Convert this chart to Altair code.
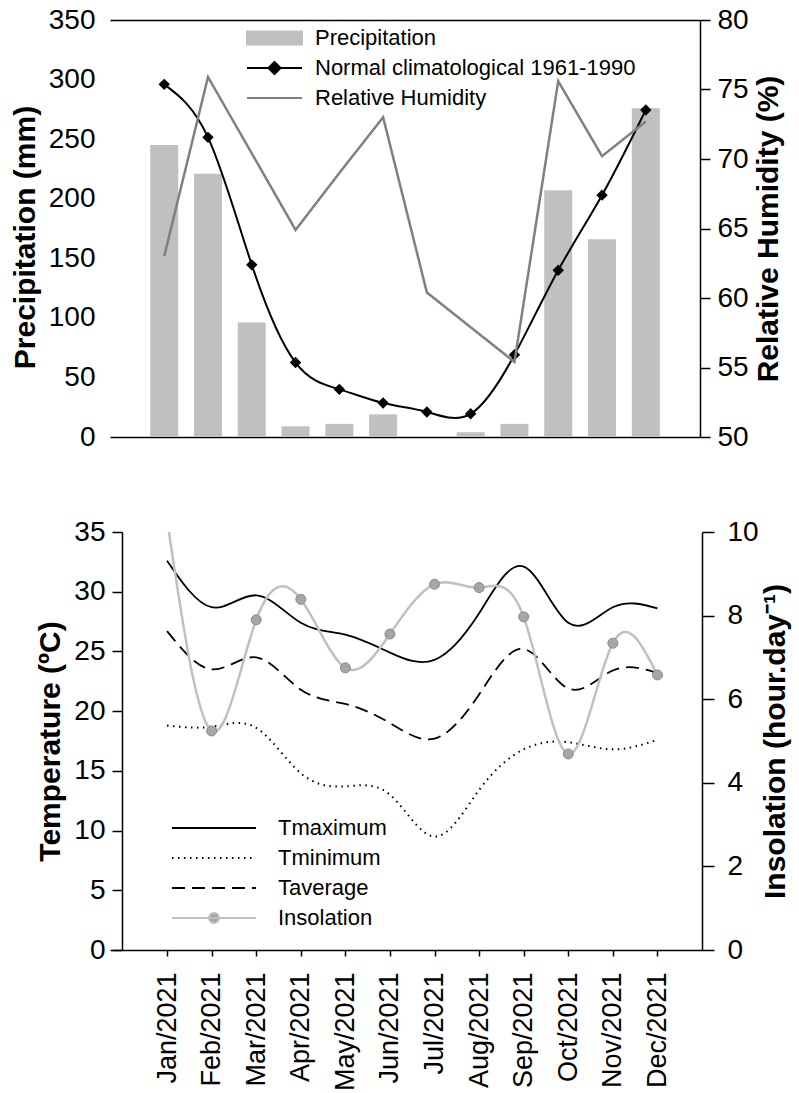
import json
import pandas as pd
import altair as alt

# ---------------- data ----------------
months = ["Jan/2021", "Feb/2021", "Mar/2021", "Apr/2021", "May/2021", "Jun/2021",
          "Jul/2021", "Aug/2021", "Sep/2021", "Oct/2021", "Nov/2021", "Dec/2021"]
month_num = [1, 2, 3, 4, 5, 6, 7, 8, 9, 10, 11, 12]

precipitation = [245, 221, 96, 9, 11, 19, 0, 4, 11, 207, 166, 276]
normal_1961_1990 = [296, 251.5, 144.5, 62.5, 40, 28.5, 21, 19.5, 69, 140, 203, 274.5]
rel_humidity = [63.0, 75.9, 70.4, 64.9, 69.0, 73.0, 60.4, 57.9, 55.4, 75.6, 70.2, 72.7]

t_max = [32.6, 28.7, 29.7, 27.4, 26.4, 24.9, 24.3, 28.2, 32.1, 27.4, 28.7, 28.6]
t_min = [18.8, 18.7, 18.6, 14.8, 13.7, 13.0, 9.5, 13.4, 16.8, 17.4, 16.8, 17.6]
t_avg = [26.7, 23.5, 24.5, 21.8, 20.6, 19.0, 17.7, 21.4, 25.2, 21.9, 23.4, 23.2]
insolation = [10.3, 5.24, 7.9, 8.39, 6.75, 7.56, 8.75, 8.67, 7.97, 4.69, 7.34, 6.58]

top_series = ["Precipitation", "Normal climatological 1961-1990", "Relative Humidity"]
bottom_series = ["Tmaximum", "Tminimum", "Taverage", "Insolation"]

FONT = "Liberation Sans"

top_df = pd.DataFrame({"m": month_num, "month": months, "precip": precipitation,
                       "normal": normal_1961_1990, "rh": rel_humidity})
bot_df = pd.DataFrame({"m": month_num, "month": months, "tmax": t_max, "tmin": t_min,
                       "tavg": t_avg, "ins": insolation})

# ---------------- top panel ----------------
x_top_scale = alt.Scale(domain=[-0.124, 13.124], nice=False, zero=False)
ax_x_top_b = alt.Axis(orient="bottom", labels=False, ticks=False, domain=True, title=None, grid=False)
ax_x_top_t = alt.Axis(orient="top", labels=False, ticks=False, domain=True, title=None, grid=False)
prec_scale = alt.Scale(domain=[0, 350], nice=False, zero=True)
ax_prec = alt.Axis(title="Precipitation (mm)", values=[0, 50, 100, 150, 200, 250, 300, 350],
                   domain=False, ticks=False, tickSize=0, labelPadding=15, titlePadding=8,
                   titleY=217)

base_top = alt.Chart(top_df)
bars = base_top.mark_bar(size=28, color="#c0c0c0").encode(
    x=alt.X("m:Q", scale=x_top_scale, axis=ax_x_top_b),
    y=alt.Y("precip:Q", scale=prec_scale, axis=ax_prec),
)
normal_line = base_top.mark_line(color="black", strokeWidth=2, interpolate="natural").encode(
    x=alt.X("m:Q", scale=x_top_scale, axis=ax_x_top_b),
    y=alt.Y("normal:Q", scale=prec_scale, axis=ax_prec),
)
normal_pts = base_top.mark_point(shape="diamond", filled=True, color="black", size=130, opacity=1).encode(
    x=alt.X("m:Q", scale=x_top_scale, axis=ax_x_top_b),
    y=alt.Y("normal:Q", scale=prec_scale, axis=ax_prec),
)

P_RECT = "M-1,-0.24L1,-0.24L1,0.24L-1,0.24Z"
P_DIAM = "M-1,0L1,0M0,-0.22L0.22,0L0,0.22L-0.22,0Z"
P_LINE = "M-1,0L1,0"

top_leg = alt.Legend(title=None, orient="none", legendX=136, legendY=4, symbolSize=3025,
                     symbolStrokeWidth=2, symbolOpacity=1, labelFontSize=22, labelFont=FONT,
                     labelColor="black", labelOffset=12, clipHeight=28, rowPadding=2,
                     padding=0, labelLimit=0)
top_legend = alt.Chart(pd.DataFrame({"s": top_series})).mark_point(opacity=0, filled=True).encode(
    shape=alt.Shape("s:N", scale=alt.Scale(domain=top_series, range=[P_RECT, P_DIAM, P_LINE]), legend=top_leg),
    fill=alt.Fill("s:N", scale=alt.Scale(domain=top_series, range=["#c0c0c0", "black", "#808080"]), legend=top_leg),
    stroke=alt.Stroke("s:N", scale=alt.Scale(domain=top_series, range=["#c0c0c0", "black", "#808080"]), legend=top_leg),
)

ax_rh = alt.Axis(orient="right", title="Relative Humidity (%)", values=[50, 55, 60, 65, 70, 75, 80],
                 tickSize=10, labelPadding=7, domain=True, titleAngle=270, titleBaseline="top",
                 titlePadding=5)
rh_line = base_top.mark_line(color="#808080", strokeWidth=2.5).encode(
    x=alt.X("m:Q", scale=x_top_scale, axis=ax_x_top_t),
    y=alt.Y("rh:Q", scale=alt.Scale(domain=[50, 80], nice=False, zero=False), axis=ax_rh),
)

top = (
    alt.layer(alt.layer(bars, normal_line, normal_pts, top_legend), rh_line)
    .resolve_scale(y="independent")
    .resolve_axis(x="independent")
    .properties(width=590, height=417)
)

# ---------------- bottom panel ----------------
x_bot_scale = alt.Scale(domain=[-0.28, 13.0], nice=False, zero=False)
ax_x_bot = alt.Axis(values=month_num, labelExpr=json.dumps(months) + "[datum.value - 1]",
                    labelAngle=270, labelFontSize=27, tickSize=6, labelPadding=16,
                    title=None, domain=True, labelFlush=False, labelOverlap=False)
temp_scale = alt.Scale(domain=[0, 35], nice=False, zero=True)
ax_temp = alt.Axis(title="Temperature (ºC)", values=[0, 5, 10, 15, 20, 25, 30, 35], offset=-12,
                   tickSize=10, labelPadding=7, titlePadding=8)
ins_scale = alt.Scale(domain=[0, 10], nice=False, zero=True)
ax_ins = alt.Axis(orient="right", title="Insolation (hour.day⁻¹)", values=[0, 2, 4, 6, 8, 10],
                  tickSize=12, labelPadding=13, titleAngle=270, titleBaseline="top", titlePadding=2)

base_bot = alt.Chart(bot_df)
tmax_line = base_bot.mark_line(color="black", strokeWidth=1.8, interpolate="natural").encode(
    x=alt.X("m:Q", scale=x_bot_scale, axis=ax_x_bot),
    y=alt.Y("tmax:Q", scale=temp_scale, axis=ax_temp),
)
tmin_line = base_bot.mark_line(color="black", strokeWidth=2, strokeDash=[1.5, 4.5],
                               interpolate="natural").encode(
    x=alt.X("m:Q", scale=x_bot_scale, axis=ax_x_bot),
    y=alt.Y("tmin:Q", scale=temp_scale, axis=ax_temp),
)
tavg_line = base_bot.mark_line(color="black", strokeWidth=1.8, strokeDash=[13, 7],
                               interpolate="natural").encode(
    x=alt.X("m:Q", scale=x_bot_scale, axis=ax_x_bot),
    y=alt.Y("tavg:Q", scale=temp_scale, axis=ax_temp),
)

P_CIRC = "M-1,0L1,0M-0.12,0A0.12,0.12,0,1,1,0.12,0A0.12,0.12,0,1,1,-0.12,0Z"
bot_leg = alt.Legend(title=None, orient="none", legendX=61, legendY=282, symbolSize=7056,
                     symbolStrokeWidth=1.8, symbolOpacity=1, labelFontSize=22, labelFont=FONT,
                     labelColor="black", labelOffset=21, clipHeight=28, rowPadding=2,
                     padding=0, labelLimit=0)
bot_legend = alt.Chart(pd.DataFrame({"s": bottom_series})).mark_point(opacity=0, filled=True).encode(
    shape=alt.Shape("s:N", scale=alt.Scale(domain=bottom_series, range=[P_LINE, P_LINE, P_LINE, P_CIRC]), legend=bot_leg),
    fill=alt.Fill("s:N", scale=alt.Scale(domain=bottom_series, range=["black", "black", "black", "#a6a6a6"]), legend=bot_leg),
    stroke=alt.Stroke("s:N", scale=alt.Scale(domain=bottom_series, range=["black", "black", "black", "#c0c0c0"]), legend=bot_leg),
    strokeDash=alt.StrokeDash("s:N", scale=alt.Scale(domain=bottom_series, range=[[1, 0], [1.5, 4.5], [13, 7], [1, 0]]), legend=bot_leg),
)

ins_line = base_bot.mark_line(color="#c0c0c0", strokeWidth=2.5, interpolate="natural", clip=True).encode(
    x=alt.X("m:Q", scale=x_bot_scale, axis=ax_x_bot),
    y=alt.Y("ins:Q", scale=ins_scale, axis=ax_ins),
)
ins_pts = base_bot.mark_point(filled=True, fill="#a6a6a6", stroke="#8a8a8a", strokeWidth=1,
                              size=100, opacity=1, clip=True).encode(
    x=alt.X("m:Q", scale=x_bot_scale, axis=ax_x_bot),
    y=alt.Y("ins:Q", scale=ins_scale, axis=ax_ins),
)

bottom = (
    alt.layer(alt.layer(tmax_line, tmin_line, tavg_line, bot_legend), alt.layer(ins_line, ins_pts))
    .resolve_scale(y="independent")
    .properties(width=592, height=418)
)

chart = (
    alt.vconcat(top, bottom, spacing=67)
    .resolve_scale(shape="independent", fill="independent", stroke="independent",
                   strokeDash="independent")
    .resolve_legend(shape="independent", fill="independent", stroke="independent",
                    strokeDash="independent")
    .configure_view(stroke=None)
    .configure_axis(labelFont=FONT, titleFont=FONT, labelColor="black", titleColor="black",
                    domainColor="black", tickColor="black", labelFontSize=28, titleFontSize=30,
                    titleFontWeight="bold", grid=False, domainWidth=1.5, tickWidth=1.5)
    .properties(padding={"left": 10, "top": 6, "right": 5, "bottom": 5})
)

chart.save("out.html", embed_options={"renderer": "svg", "actions": False})
